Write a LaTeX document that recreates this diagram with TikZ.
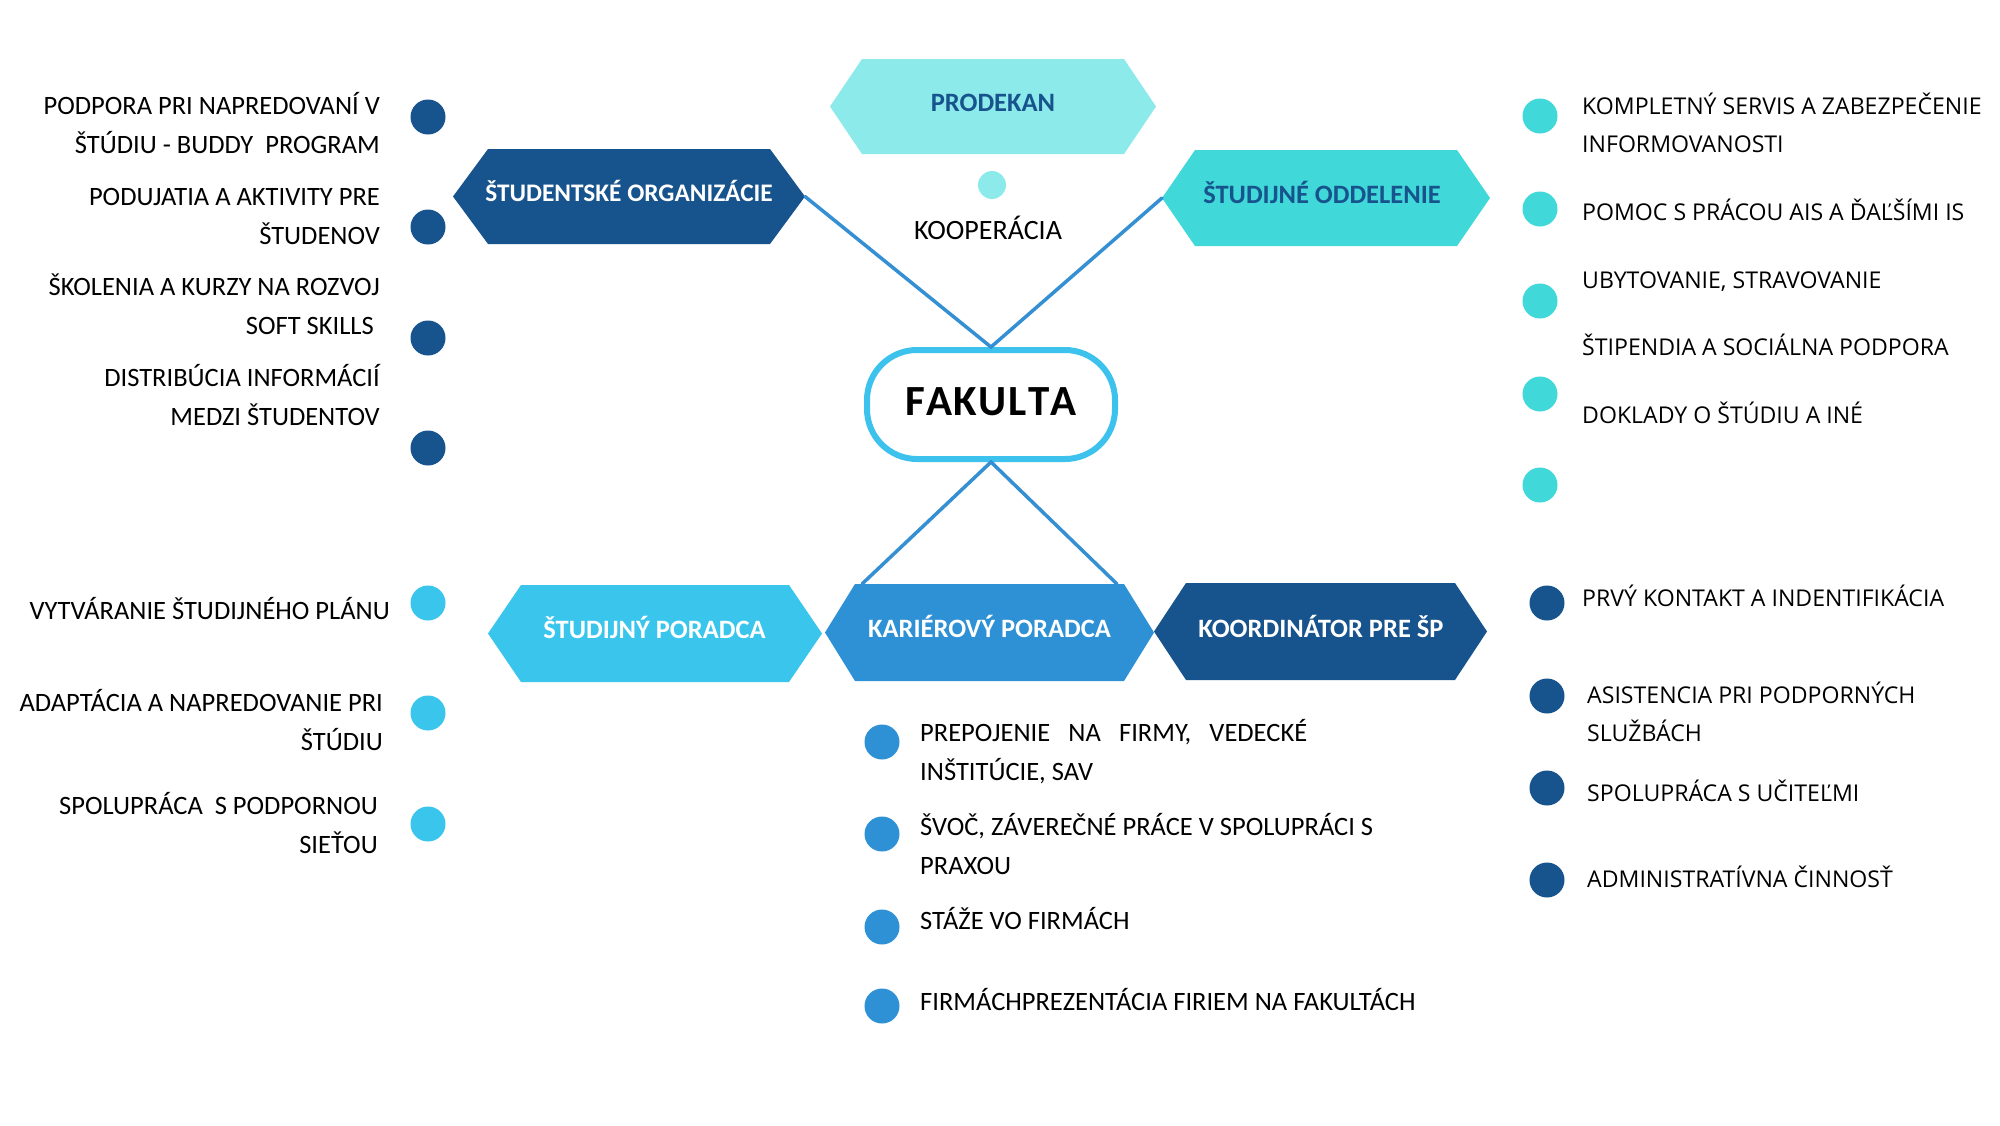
\documentclass[tikz,border=0pt]{standalone}
\usepackage{fontspec}
\setmainfont{Carlito}
\newfontfamily\osans{Open Sans}
\usetikzlibrary{calc}
\definecolor{dblue}{HTML}{17538C}
\definecolor{turq}{HTML}{40D8D8}
\definecolor{lcyan}{HTML}{8CEAEA}
\definecolor{sky}{HTML}{3AC6EC}
\definecolor{mblue}{HTML}{2E91D5}
\definecolor{linec}{HTML}{3490D2}
\definecolor{fakb}{HTML}{3CC2EC}
\newcommand\lnstrut{\rule{0pt}{26pt}}
\newcommand\osstrut{\rule{0pt}{23pt}}
% cx, cy, half width to corners, half height, point depth, colour
\newcommand\hexfill[6]{%
  \fill[#6] (#1-#3,#2-#4) -- (#1+#3,#2-#4) -- (#1+#3+#5,#2) -- (#1+#3,#2+#4)
    -- (#1-#3,#2+#4) -- (#1-#3-#5,#2) -- cycle;}
\begin{document}
\begin{tikzpicture}[x=1pt,y=-1pt,
  hexlbl/.style={inner sep=0pt, font=\bfseries\fontsize{26.5}{30}\selectfont, text height=16.6pt, text depth=0pt},
  dot/.style={circle, inner sep=0pt, minimum size=35pt},
  item/.style={inner sep=0pt, font=\fontsize{26.5}{39.3}\selectfont},
  oitem/.style={inner sep=0pt, font=\osans\fontsize{23.1}{38.5}\selectfont},
  conn/.style={draw=linec, line width=3.5pt, line cap=round},
]
\fill[white] (0,0) rectangle (2000,1125);
\useasboundingbox (0,0) rectangle (2000,1125);

% hexagons
\hexfill{993}{106.5}{131}{47.5}{32}{lcyan}
\hexfill{629}{196.5}{141}{47.5}{35}{dblue}
\hexfill{1326}{198}{131}{48}{33}{turq}
\hexfill{655}{633.5}{134}{48.5}{33}{sky}
\hexfill{989.5}{632.5}{134.5}{48.5}{30}{mblue}
\hexfill{1320.5}{631.5}{134.5}{48.5}{32}{dblue}

\node[hexlbl, text=dblue] (prod) at (993,103.5) {PRODEKAN};
\node[hexlbl, text=white, font=\bfseries\fontsize{25.3}{30}\selectfont, text height=15.9pt] (so) at (629,194) {ŠTUDENTSKÉ ORGANIZÁCIE};
\node[hexlbl, text=dblue] (sod) at (1322,195) {ŠTUDIJNÉ ODDELENIE};
\node[hexlbl, text=white] (sp) at (654.5,630.5) {ŠTUDIJNÝ PORADCA};
\node[hexlbl, text=white] (kp) at (989.5,629.5) {KARIÉROVÝ PORADCA};
\node[hexlbl, text=white] (ksp) at (1321,629.5) {KOORDINÁTOR PRE ŠP};

\coordinate (so-tip) at (805,196.5);
\coordinate (sod-tip) at (1162,198);
\coordinate (kp-l) at (862,584);
\coordinate (kp-r) at (1117,584);

% centre
\node[draw=fakb, fill=white, line width=6pt, rounded corners=50pt,
      minimum width=248pt, minimum height=109pt, inner sep=0pt,
      font=\bfseries\fontsize{43}{46}\selectfont, text height=27pt, text depth=5pt]
      (fak) at (991,404.5) {F\kern1.5pt A\kern1.5pt K\kern1.5pt U\kern1.5pt L\kern1.5pt T\kern1.5pt A};
\draw[conn] (so-tip) -- (fak.north) -- (sod-tip);
\draw[conn] (kp-l) -- (fak.south) -- (kp-r);

\node[dot, fill=lcyan, minimum size=28pt] (kdot) at (992,185) {};
\node[inner sep=0pt, anchor=base, font=\fontsize{28}{30}\selectfont] (koop) at (988,239) {KOOPERÁCIA};

% dots
\foreach \y [count=\i] in {117,227,338,448} \node[dot, fill=dblue] (ld\i) at (428,\y) {};
\foreach \y [count=\i] in {603,713,824} \node[dot, fill=sky] (bd\i) at (428,\y) {};
\foreach \y [count=\i] in {116,209,301,394,485} \node[dot, fill=turq] (rd\i) at (1540,\y) {};
\foreach \y [count=\i] in {742,834,927,1006} \node[dot, fill=mblue] (cd\i) at (882,\y) {};
\foreach \y [count=\i] in {603,696,788,880} \node[dot, fill=dblue] (qd\i) at (1547,\y) {};

% left texts
\node[item, anchor=north east, align=right] (l1) at (380,88) {\lnstrut PODPORA PRI NAPREDOVANÍ V\\ŠTÚDIU - BUDDY~ PROGRAM};
\node[item, anchor=north east, align=right] (l2) at (380,179) {\lnstrut PODUJATIA A AKTIVITY PRE\\ŠTUDENOV};
\node[item, anchor=north east, align=right] (l3) at (380,269) {\lnstrut ŠKOLENIA A KURZY NA ROZVOJ\\SOFT SKILLS\hspace*{6pt}};
\node[item, anchor=north east, align=right] (l4) at (380,360) {\lnstrut DISTRIBÚCIA INFORMÁCIÍ\\MEDZI ŠTUDENTOV};

\node[item, anchor=north east, align=right] (b1) at (390,593) {\lnstrut VYTVÁRANIE ŠTUDIJNÉHO PLÁNU};
\node[item, anchor=north east, align=right] (b2) at (383,685) {\lnstrut ADAPTÁCIA A NAPREDOVANIE PRI\\ŠTÚDIU};
\node[item, anchor=north east, align=right] (b3) at (378,788) {\lnstrut SPOLUPRÁCA~ S PODPORNOU\\SIEŤOU};

% centre-bottom texts
\node[item, anchor=north west, align=left] (c1) at (920,715) {\lnstrut\makebox[387pt][s]{PREPOJENIE NA FIRMY, VEDECKÉ}\\INŠTITÚCIE, SAV};
\node[item, anchor=north west, align=left] (c2) at (920,809) {\lnstrut ŠVOČ, ZÁVEREČNÉ PRÁCE V SPOLUPRÁCI S\\PRAXOU};
\node[item, anchor=north west, align=left] (c3) at (920,903) {\lnstrut STÁŽE VO FIRMÁCH};
\node[item, anchor=north west, align=left] (c4) at (920,984) {\lnstrut FIRMÁCHPREZENTÁCIA FIRIEM NA FAKULTÁCH};

% right-top texts
\node[oitem, anchor=north west, align=left] (r1) at (1582,91) {\osstrut KOMPLETNÝ SERVIS A ZABEZPEČENIE\\INFORMOVANOSTI};
\node[oitem, anchor=north west, align=left] (r2) at (1582,197) {\osstrut POMOC S PRÁCOU AIS A ĎAĽŠÍMI IS};
\node[oitem, anchor=north west, align=left] (r3) at (1582,265) {\osstrut UBYTOVANIE, STRAVOVANIE};
\node[oitem, anchor=north west, align=left] (r4) at (1582,332) {\osstrut ŠTIPENDIA A SOCIÁLNA PODPORA};
\node[oitem, anchor=north west, align=left] (r5) at (1582,400) {\osstrut DOKLADY O ŠTÚDIU A INÉ};

% right-bottom texts
\node[oitem, anchor=north west, align=left] (q1) at (1582,583) {\osstrut PRVÝ KONTAKT A INDENTIFIKÁCIA};
\node[oitem, anchor=north west, align=left] (q2) at (1587,680) {\osstrut ASISTENCIA PRI PODPORNÝCH\\SLUŽBÁCH};
\node[oitem, anchor=north west, align=left] (q3) at (1587,778) {\osstrut SPOLUPRÁCA S UČITEĽMI};
\node[oitem, anchor=north west, align=left] (q4) at (1587,864) {\osstrut ADMINISTRATÍVNA ČINNOSŤ};
\end{tikzpicture}
\end{document}
